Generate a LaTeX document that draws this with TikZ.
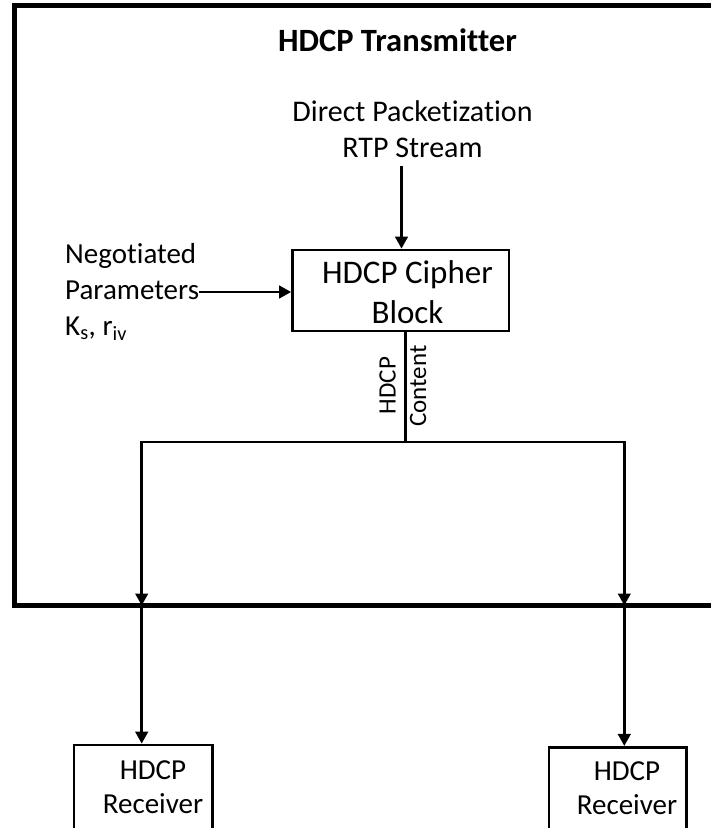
\documentclass[tikz,border=0pt]{standalone}
\usepackage{fontspec}
\setmainfont{Carlito}[Ligatures=CommonOff]
\usetikzlibrary{arrows.meta}
\begin{document}
\begin{tikzpicture}[x=1pt,y=-1pt,
  lw/.style={line width=2.7pt},
  arr/.style={line width=2.7pt,-{Triangle[length=12pt,width=12.5pt]}},
  box/.style={draw,line width=2.7pt,rectangle,inner sep=0pt},
  txt/.style={font=\fontsize{29}{36}\selectfont,inner sep=0pt},
  rot/.style={font=\fontsize{25}{29}\selectfont,inner sep=0pt,rotate=90},
]
\useasboundingbox (0,0) rectangle (711,828);
\fill[white] (0,0) rectangle (711,828);
% transmitter frame (runs past the right edge)
\node[draw, line width=4.5pt, outer sep=0pt, inner sep=0pt,
      minimum width=735pt, minimum height=600pt, anchor=north west] (tx) at (14.5,5.5) {};
\node[font=\bfseries\fontsize{32.5}{38}\selectfont, anchor=base, inner sep=0pt] (title) at (397.5,51) {HDCP Transmitter};
\node[txt, align=center, font=\fontsize{30}{36}\selectfont] (stream) at (412.5,129) {Direct Packetization\\RTP Stream};
\node[txt, align=left, anchor=west] (neg) at (65,292) {Negotiated\\Parameters\\K\textsubscript{s}, r\textsubscript{iv}};
% cipher block
\node[box, minimum width=216.5pt, minimum height=81pt] (cipher) at (400.75,290.5) {};
\node[font=\fontsize{33}{40}\selectfont, align=center, inner sep=0pt] (ciphertxt) at (407.5,292) {HDCP Cipher\\Block};
% receivers
\node[box, minimum width=138.7pt, minimum height=110pt] (rx1) at (143.35,800) {};
\node[txt, align=center, font=\fontsize{29}{34}\selectfont] (rx1t) at (153,786.7) {HDCP\\Receiver};
\node[box, minimum width=137.7pt, minimum height=110pt] (rx2) at (617.85,802.3) {};
\node[txt, align=center, font=\fontsize{29}{34}\selectfont] (rx2t) at (627,788) {HDCP\\Receiver};
% content labels
\node[rot] (lblA) at (387.5,385.5) {HDCP};
\node[rot] (lblB) at (418,386) {Content};
% coordinates
\coordinate (s1) at (401.5,166);
\coordinate (split) at (405.5,442);
\coordinate (ls) at (141.7,442);
\coordinate (rs) at (624.3,442);
% connectors
\draw[arr] (s1) -- (s1 |- cipher.north);
\draw[arr] (neg.east) -- (neg.east -| cipher.west);
\draw[lw] (cipher.south -| split) -- (split);
\draw[arr] (split) -- (ls) -- (ls |- tx.south);
\draw[arr] (split) -- (rs) -- (rs |- tx.south);
\draw[arr] (ls |- tx.south) -- (rx1.north -| ls);
\draw[arr] (rs |- tx.south) -- (rx2.north -| rs);
\end{tikzpicture}
\end{document}
